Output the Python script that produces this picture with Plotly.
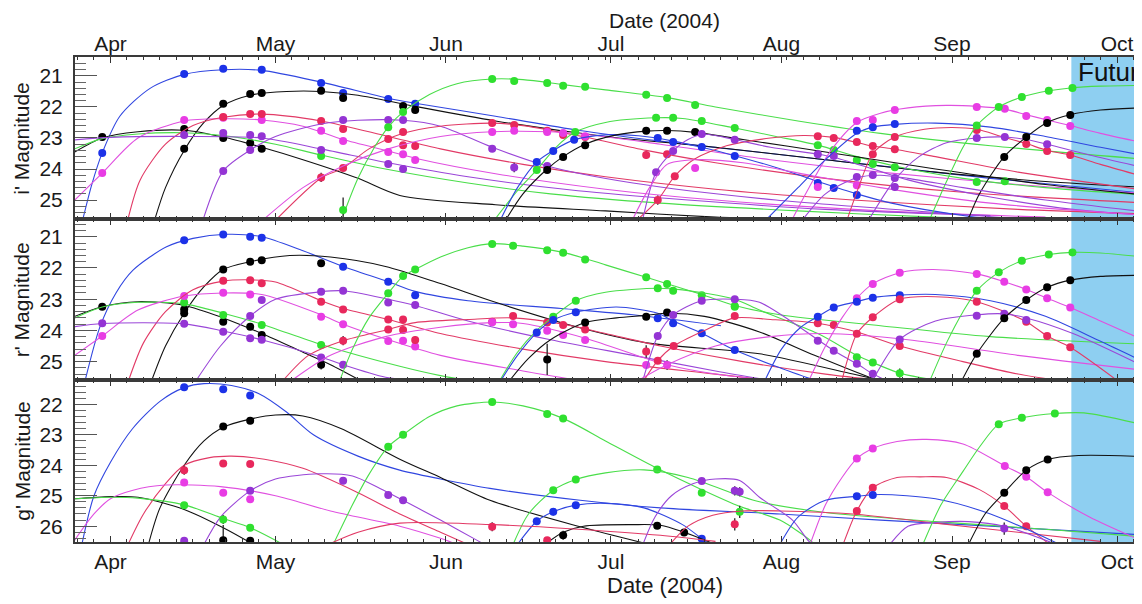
import pandas as pd
import plotly.graph_objects as go

# ---------------- data (days since 2004-04-01, magnitude[, error]) ----------------
# ---- i' band ----
I_BLUE_A_FIT = [(-5, 25.6), (-3.4, 24.5), (-1.5, 23.48), (1.7, 22.3), (7.2, 21.4), (13.4, 20.95), (20.5, 20.8), (27.5, 20.82), (38.3, 21.2), (50.5, 21.72), (55.4, 21.88), (70, 22.3), (85, 22.75), (100, 23.1), (120, 23.5), (140, 23.9), (160, 24.3), (189, 24.8)]
I_BLUE_A_OBS = [(-1.5, 23.48), (13.4, 20.94), (20.5, 20.77), (27.5, 20.8), (38.3, 21.23), (42.3, 21.55), (50.5, 21.74), (55.4, 21.9)]
I_BLACK_A_FIT = [(8.1, 25.6), (10, 24.6), (13.4, 23.4), (17, 22.5), (20.5, 21.95), (25.4, 21.62), (32, 21.5), (38.3, 21.5), (45, 21.62), (55.4, 21.98), (70, 22.45), (90, 22.95), (110, 23.3), (130, 23.7), (150, 24.1), (170, 24.4), (189, 24.6)]
I_BLACK_A_OBS = [(13.4, 23.35), (20.5, 21.9), (25.4, 21.58), (27.5, 21.55), (38.3, 21.48), (42.3, 21.71), (53.2, 21.97), (55.4, 22.1)]
I_BLACK_E_FIT = [(-6.5, 23.45), (-1.5, 23.0), (5, 22.8), (13.4, 22.75), (20.5, 22.97), (27.5, 23.3), (35, 23.7), (45, 24.3), (52.6, 24.85), (70, 25.15), (90, 25.35), (110, 25.55), (120, 25.6)]
I_BLACK_E_OBS = [(-1.5, 22.97), (13.4, 22.71), (20.5, 23.0), (25.4, 23.16), (27.5, 23.35)]
I_GREEN_E_FIT = [(-6.5, 23.35), (-1.5, 23.02), (5, 22.87), (13.4, 22.83), (20.5, 22.92), (30, 23.2), (38.3, 23.55), (50, 24.0), (65, 24.45), (80, 24.8), (100, 25.1), (125, 25.35), (150, 25.55), (160, 25.6)]
I_GREEN_E_OBS = [(38.3, 23.58, 0.08)]
I_MAG_E_FIT = [(-6.5, 25.0), (-1.5, 24.13), (5, 23.0), (13.4, 22.45), (20.5, 22.38), (27.5, 22.42), (35, 22.62), (42.3, 23.05), (50.5, 23.42), (55.4, 23.65), (70, 24.15), (90, 24.65), (110, 25.0), (140, 25.35), (170, 25.55)]
I_MAG_E_OBS = [(-1.5, 24.13), (13.4, 22.42), (20.5, 22.35), (27.5, 22.42), (38.3, 22.77), (42.3, 23.1), (53.2, 23.52), (55.4, 23.71)]
I_RED_E_FIT = [(3.2, 25.6), (5.4, 24.35), (10, 23.2), (15, 22.6), (20.5, 22.33), (27.5, 22.23), (38.3, 22.45), (50.5, 22.95), (60, 23.35), (75, 23.85), (90, 24.25), (110, 24.65), (135, 25.0), (165, 25.3), (189, 25.45)]
I_RED_E_OBS = [(20.5, 22.32), (25.4, 22.23), (27.5, 22.23), (38.3, 22.45), (42.3, 22.71), (53.2, 23.23), (55.4, 23.26)]
I_PUR_E_FIT = [(-6.5, 23.06), (0, 22.98), (13.4, 22.95), (27.5, 23.0), (38.3, 23.35), (50.5, 23.8), (65, 24.25), (85, 24.7), (105, 25.0), (130, 25.3), (160, 25.5)]
I_PUR_E_OBS = [(13.4, 22.9), (20.5, 22.84), (25.4, 22.9), (27.5, 22.94), (38.3, 23.39), (50.5, 23.84), (53.2, 24.0, 0.1)]
I_PUR_A_FIT = [(16.9, 25.6), (20.5, 24.06), (25.4, 23.39), (30, 22.95), (38.3, 22.55), (45, 22.43), (53.2, 22.43), (60, 22.62), (69.4, 23.3), (79.4, 23.9), (95, 24.45), (121, 25.0), (150, 25.4), (165, 25.6)]
I_PUR_A_OBS = [(20.5, 24.06, 0.08), (25.4, 23.39), (42.3, 22.42), (50.5, 22.42), (53.2, 22.42), (69.4, 23.35), (73.4, 23.95, 0.15), (79.4, 23.9)]
I_RED_M_FIT = [(30.3, 25.6), (38.3, 24.29), (42.3, 23.97), (47, 23.35), (53.2, 22.85), (60, 22.62), (69.4, 22.52), (75, 22.6), (86.3, 22.97), (97.4, 23.4), (110, 23.8), (130, 24.3), (155, 24.75), (189, 25.1)]
I_RED_M_OBS = [(38.3, 24.27, 0.15), (42.3, 23.97, 0.08), (50.5, 23.03), (53.2, 22.81), (69.4, 22.52), (73.4, 22.58), (79.4, 22.77), (82.3, 22.9), (86.3, 22.97), (97.4, 23.55, 0.12), (101.2, 23.52)]
I_MAG_M_FIT = [(28, 25.6), (35, 24.6), (42.3, 23.9), (50.5, 23.35), (60, 22.95), (69.4, 22.8), (80, 22.8), (86.3, 22.88), (100, 23.2), (120, 23.7), (140, 24.1), (165, 24.5), (189, 24.8)]
I_MAG_M_OBS = [(50.5, 23.45), (69.4, 22.81), (73.4, 22.77), (79.4, 22.81), (82.3, 22.84), (86.3, 22.94)]
I_GREEN_J_FIT = [(42.3, 25.5), (45, 24.3), (48, 23.3), (50.5, 22.65), (53.2, 22.16), (58, 21.6), (63, 21.25), (69.4, 21.1), (75, 21.12), (82.3, 21.28), (90, 21.45), (101.2, 21.7), (110, 22.0), (125, 22.45), (140, 22.85), (160, 23.25), (189, 23.7)]
I_GREEN_J_OBS = [(42.3, 25.32, 0.4), (50.5, 22.65), (53.2, 22.16), (69.4, 21.1), (73.4, 21.16), (79.4, 21.23), (82.3, 21.32), (86.3, 21.35), (97.4, 21.61), (101.2, 21.71), (106.3, 21.94)]
I_GREEN_L_FIT = [(70, 25.6), (74, 24.7), (77.5, 24.03), (81, 23.3), (84.5, 22.81), (90, 22.5), (99.2, 22.35), (104, 22.37), (113.5, 22.68), (121, 22.95), (128.6, 23.23), (135.7, 23.6), (142.6, 23.9), (155, 24.3), (170, 24.6), (189, 24.85)]
I_GREEN_L_OBS = [(77.5, 24.03), (84.5, 22.81), (99.2, 22.35), (102.3, 22.35), (107.5, 22.45), (113.5, 22.68), (128.6, 23.23), (131.5, 23.39), (135.7, 23.71), (138.6, 23.84), (142.6, 23.94), (157.5, 24.42, 0.08), (162.6, 24.39, 0.08)]
I_BLUE_B_FIT = [(71, 25.6), (74, 24.6), (77.5, 23.77), (80.5, 23.4), (84.3, 23.06), (90, 22.9), (96, 22.93), (102.3, 23.1), (107.5, 23.3), (113.5, 23.57), (121, 23.95), (128.6, 24.4), (135.7, 24.8), (142, 25.1), (155, 25.5), (160, 25.6)]
I_BLUE_B_OBS = [(77.5, 23.77), (80.5, 23.42), (84.3, 23.06), (99.5, 23.0), (102.3, 23.13), (107.5, 23.29), (113.5, 23.58), (128.6, 24.45), (131.5, 24.61), (135.7, 24.84)]
I_BLACK_B_FIT = [(72, 25.6), (75, 24.8), (79.4, 24.0), (82.3, 23.6), (86.3, 23.2), (92, 22.9), (97.4, 22.78), (101.2, 22.76), (106.3, 22.82), (115, 23.05), (130, 23.45), (150, 24.0), (170, 24.5), (189, 24.85)]
I_BLACK_B_OBS = [(79.4, 24.03), (82.3, 23.61), (86.3, 23.23), (97.4, 22.77), (101.2, 22.77), (106.3, 22.81)]
I_RED_H_FIT = [(96, 25.6), (99.5, 25.0), (102.6, 24.23), (106, 23.7), (112, 23.25), (120, 23.0), (126, 22.92), (131.5, 22.98), (138.6, 23.26), (142.6, 23.36), (150, 23.6), (165, 24.1), (189, 24.7)]
I_RED_H_OBS = [(99.5, 25.0, 0.15), (102.6, 24.23), (128.6, 22.94), (131.5, 23.0), (135.7, 23.13), (138.6, 23.26), (142.6, 23.36)]
I_PUR_J_FIT = [(96.8, 25.6), (99.2, 24.1), (102.3, 23.42), (105, 23.05), (108, 22.88), (113.5, 23.05), (120, 23.3), (128.6, 23.52), (131.5, 23.62), (138.6, 24.0), (145, 24.35), (160, 24.9), (175, 25.3), (189, 25.5)]
I_PUR_J_OBS = [(99.2, 24.1), (102.3, 23.42), (107.5, 22.87), (113.5, 23.06), (128.6, 23.52), (131.5, 23.58)]
I_MAG_J_FIT = [(95, 25.6), (98, 24.6), (101.2, 23.85), (106.3, 23.7), (115, 23.8), (128.6, 24.25), (140, 24.6), (160, 25.1), (189, 25.5)]
I_MAG_J_OBS = [(106.3, 23.97, 0.08), (128.6, 24.58), (135.7, 24.52)]
I_MAG_A_FIT = [(124, 25.6), (127, 24.6), (131, 23.4), (135.7, 22.5), (140, 22.2), (145, 22.03), (152, 21.95), (157.5, 21.98), (162.6, 22.07), (166.5, 22.25), (170.3, 22.42), (174.5, 22.6), (180, 22.85), (189, 23.2)]
I_MAG_A_OBS = [(135.7, 22.45), (138.6, 22.42), (142.6, 22.1), (157.5, 22.0), (162.6, 22.06), (166.5, 22.29), (170.3, 22.42), (174.5, 22.61)]
I_RED_A_FIT = [(134, 25.6), (136, 24.6), (138.6, 23.5), (142.6, 22.97), (148, 22.72), (153, 22.66), (157.5, 22.72), (162, 22.95), (166.5, 23.18), (170.3, 23.4), (174.5, 23.55), (180, 23.85), (189, 24.3)]
I_RED_A_OBS = [(138.6, 23.52), (142.6, 22.97), (157.5, 22.74), (166.5, 23.19), (170.3, 23.42), (174.5, 23.55)]
I_PUR_A2_FIT = [(138, 25.6), (142.6, 24.35), (147, 23.6), (152, 23.15), (157.5, 23.0), (162.6, 22.97), (166.5, 23.05), (170.3, 23.2), (178, 23.55), (189, 24.0)]
I_PUR_A2_OBS = [(142.6, 24.29), (157.5, 23.0), (162.6, 22.97), (170.3, 23.2)]
I_BLUE_C_FIT = [(119.4, 25.6), (125, 24.6), (130, 23.7), (135.7, 22.85), (138.6, 22.65), (142.6, 22.56), (150, 22.52), (160, 22.65), (170, 22.95), (180, 23.3), (189, 23.6)]
I_BLUE_C_OBS = [(135.7, 22.77), (138.6, 22.65), (142.6, 22.55)]
I_BLACK_S_FIT = [(156, 25.6), (158, 24.8), (162.5, 23.6), (166.5, 22.97), (170.3, 22.5), (174.5, 22.25), (180, 22.1), (189, 22.02)]
I_BLACK_S_OBS = [(162.5, 23.61), (166.5, 22.97), (170.3, 22.52), (174.5, 22.26)]
I_GREEN_S_FIT = [(149, 25.6), (152, 24.4), (155, 23.3), (157.5, 22.6), (161.5, 22.0), (165.7, 21.68), (170.6, 21.48), (174.9, 21.38), (180, 21.33), (189, 21.3)]
I_GREEN_S_OBS = [(157.5, 22.6), (161.5, 22.0), (165.7, 21.68), (170.6, 21.48), (174.9, 21.39)]
I_PUR_B_FIT = [(126, 25.6), (130, 24.8), (135.7, 24.28), (140, 24.2), (145, 24.3), (155, 24.6), (170, 25.0), (189, 25.4)]
I_PUR_B_OBS = [(135.7, 24.26), (138.6, 24.19), (142.6, 24.58, 0.12)]

# ---- r' band ----
R_BLUE_A_FIT = [(-4.6, 25.6), (-1.9, 23.88), (1, 22.8), (4.1, 22.07), (10.2, 21.32), (15, 21.05), (21, 20.92), (27.5, 21.0), (35, 21.45), (42.3, 21.95), (50.5, 22.44), (55.4, 22.75), (65, 23.05), (82, 23.3), (95, 23.5), (111, 23.85)]
R_BLUE_A_OBS = [(13.4, 21.11), (20.5, 20.93), (25.4, 21.0), (27.5, 21.03), (42.3, 21.96), (50.5, 22.44), (55.4, 22.87)]
R_BLACK_A_FIT = [(7.5, 25.6), (10, 24.5), (13.4, 23.45), (17, 22.6), (20.5, 22.05), (25.4, 21.8), (32.6, 21.6), (40, 21.65), (50, 21.95), (60, 22.5), (70, 23.1), (85, 23.9), (97.5, 24.4), (118, 24.75), (135, 25.4), (140, 25.6)]
R_BLACK_A_OBS = [(13.4, 23.45), (20.5, 22.05), (25.4, 21.8), (27.5, 21.75), (38.3, 21.85)]
R_BLACK_E_FIT = [(-6.5, 23.55), (-1.5, 23.24), (5, 23.08), (13.4, 23.2), (20.5, 23.6), (27.5, 24.1), (35, 24.7), (40, 25.1), (45.4, 25.6)]
R_BLACK_E_OBS = [(-1.5, 23.24), (13.4, 23.33), (20.5, 23.72), (25.4, 23.88), (27.5, 24.15, 0.08), (38.3, 25.1, 0.15)]
R_GREEN_E_FIT = [(-6.5, 23.6), (-1.5, 23.25), (5, 23.1), (13.4, 23.15), (20.5, 23.45), (27.5, 23.8), (38.3, 24.45), (52.6, 25.15), (60, 25.45), (65, 25.6)]
R_GREEN_E_OBS = [(13.4, 23.11), (20.5, 23.51), (27.5, 23.83), (38.3, 24.47)]
R_MAG_E_FIT = [(-6.5, 24.8), (-1.5, 24.18), (5, 23.35), (13.4, 22.9), (20.5, 22.8), (27.5, 22.85), (38.3, 23.5), (42.3, 23.8), (50.5, 24.3), (60, 24.8), (75, 25.3), (85, 25.6)]
R_MAG_E_OBS = [(-1.5, 24.18), (13.4, 22.9), (20.5, 22.79), (25.4, 22.85), (38.3, 23.56), (42.3, 23.8), (50.5, 24.34), (53.2, 24.33), (55.4, 24.52)]
R_RED_E_FIT = [(3.3, 25.6), (6, 24.4), (10, 23.4), (15, 22.7), (20.5, 22.42), (25.4, 22.38), (30, 22.45), (38.3, 23.05), (42.3, 23.3), (50.5, 23.65), (60, 24.1), (75, 24.6), (90, 25.0), (110, 25.4), (120, 25.6)]
R_RED_E_OBS = [(20.5, 22.41), (25.4, 22.39), (27.5, 22.49), (38.3, 23.08), (42.3, 23.33), (50.5, 23.65), (53.2, 23.65)]
R_PUR_E_FIT = [(-6.5, 23.88), (-1.5, 23.78), (13.4, 23.79), (20.5, 24.02), (27.5, 24.3), (38.3, 24.85), (42.3, 25.1), (50, 25.5), (55, 25.6)]
R_PUR_E_OBS = [(-1.5, 23.77), (13.4, 23.79), (20.5, 24.04), (25.4, 24.25), (27.5, 24.3), (38.3, 24.87), (42.3, 25.1)]
R_PUR_A_FIT = [(15.6, 25.6), (20, 24.5), (25.4, 23.54), (30, 23.0), (38.3, 22.76), (42.3, 22.73), (50.5, 23.0), (55.4, 23.2), (65, 23.7), (80, 24.3), (95, 24.8), (110, 25.3), (120, 25.6)]
R_PUR_A_OBS = [(25.4, 23.54), (27.5, 23.03), (38.3, 22.76), (42.3, 22.73), (50.5, 23.11), (55.4, 23.19)]
R_RED_M_FIT = [(31.4, 25.6), (36, 24.8), (42.3, 24.33), (50.5, 23.97), (55.4, 23.75), (65, 23.65), (73.2, 23.6), (82.3, 23.8), (90, 24.1), (100, 24.5), (115, 25.0), (130, 25.4), (140, 25.6)]
R_RED_M_OBS = [(42.3, 24.33, 0.15), (50.5, 23.97), (53.2, 23.99), (55.4, 24.31, 0.12), (69.4, 23.72), (73.2, 23.54), (79.4, 23.75), (82.3, 23.83), (86.3, 23.97), (97.4, 24.68, 0.2)]
R_MAG_M_FIT = [(33, 25.6), (40, 24.8), (50, 24.2), (60, 23.9), (69.4, 23.75), (75, 23.78), (86.3, 24.25), (97.4, 24.9), (101.2, 25.1), (110, 25.4), (120, 25.6)]
R_MAG_M_OBS = [(69.4, 23.74), (73.2, 23.8), (79.4, 24.01), (82.3, 24.15), (86.3, 24.31), (97.4, 25.11), (101.2, 25.11, 0.15)]
R_GREEN_J_FIT = [(41.7, 25.6), (44, 24.6), (47, 23.6), (50.5, 22.81), (53.2, 22.26), (55.4, 22.05), (60, 21.65), (65, 21.35), (69.4, 21.22), (75, 21.3), (82.3, 21.5), (90, 21.9), (97.4, 22.3), (107.5, 22.85), (113.5, 23.2), (121.7, 23.5), (140, 23.85), (160, 24.2), (189, 24.45)]
R_GREEN_J_OBS = [(50.5, 22.81), (53.2, 22.26), (55.4, 22.05), (69.4, 21.23), (73.2, 21.29), (79.4, 21.43), (82.3, 21.51), (86.3, 21.73), (97.4, 22.3), (101.2, 22.51), (107.5, 22.87), (113.5, 23.22)]
R_GREEN_L_FIT = [(70.8, 25.6), (74, 24.7), (77.5, 24.0), (80.5, 23.56), (84.6, 23.05), (90, 22.78), (99.5, 22.65), (104, 22.7), (113.5, 23.0), (118, 23.35), (128.6, 24.1), (135.7, 24.8), (138.6, 25.03), (143.5, 25.37), (150, 25.6)]
R_GREEN_L_OBS = [(80.5, 23.56), (84.6, 23.05), (99.5, 22.65), (102.3, 22.73), (113.5, 23.24), (135.7, 24.86), (138.6, 25.03), (143.5, 25.37, 0.15)]
R_BLUE_B_FIT = [(71, 25.6), (74, 24.8), (77.5, 24.07), (80.5, 23.67), (84.6, 23.42), (92, 23.25), (99.5, 23.45), (102.3, 23.7), (107.5, 24.09), (113.5, 24.63), (121.7, 25.2), (128, 25.6)]
R_BLUE_B_OBS = [(77.5, 24.07), (80.5, 23.67), (84.6, 23.42), (99.5, 23.61), (102.3, 23.77), (107.5, 24.09), (113.5, 24.63)]
R_BLACK_B_FIT = [(72.6, 25.6), (76, 24.9), (80, 24.3), (86.3, 23.75), (92, 23.6), (97.4, 23.52), (101.2, 23.45), (108, 23.55), (118, 24.05), (128, 24.8), (138, 25.5), (140, 25.6)]
R_BLACK_B_OBS = [(79.4, 24.93, 0.5), (86.3, 23.75), (97.4, 23.56), (101.2, 23.43)]
R_RED_H_FIT = [(97, 25.6), (99.5, 24.97), (102.4, 24.5), (108, 24.0), (113.5, 23.6), (120, 23.65), (128.6, 23.77), (135.7, 24.05), (143.5, 24.5), (155, 25.0), (165, 25.4), (172, 25.6)]
R_RED_H_OBS = [(99.5, 24.97), (102.4, 24.5), (113.5, 23.54), (128.6, 23.77), (131.5, 23.83), (143.5, 24.5)]
R_PUR_J_FIT = [(96.8, 25.6), (99.5, 24.18), (102.3, 23.51), (107.5, 23.05), (113.5, 23.0), (118, 23.1), (128.6, 24.3), (131.5, 24.65), (135.7, 25.07), (138.6, 25.39), (141, 25.6)]
R_PUR_J_OBS = [(99.5, 24.18), (102.3, 23.51), (107.5, 23.05), (113.5, 23.0), (128.6, 24.33), (131.5, 24.65), (135.7, 25.07), (138.6, 25.39)]
R_MAG_J_FIT = [(96, 25.6), (101.2, 25.1), (110, 24.5), (120, 24.2), (130, 24.1), (145, 24.3), (165, 24.8), (189, 25.3)]
R_MAG_J_OBS = []
R_MAG_A_FIT = [(127, 25.6), (130, 24.5), (133, 23.6), (135.7, 22.97), (138.6, 22.51), (143.5, 22.15), (149.6, 22.05), (157.5, 22.19), (162.5, 22.44), (166.5, 22.69), (170.3, 22.97), (174.5, 23.27), (180, 23.7), (189, 24.4)]
R_MAG_A_OBS = [(135.7, 22.97), (138.6, 22.51), (143.5, 22.15), (157.5, 22.19), (162.5, 22.44), (166.5, 22.69), (170.3, 22.97), (174.5, 23.27)]
R_BLUE_C_FIT = [(119, 25.6), (122, 24.6), (125.5, 23.9), (128.6, 23.56), (131.5, 23.27), (135.7, 23.08), (138.6, 22.95), (143.5, 22.87), (150, 22.85), (160, 23.05), (170, 23.55), (180, 24.35), (189, 25.1)]
R_BLUE_C_OBS = [(128.6, 23.56), (131.5, 23.27), (135.7, 23.08), (138.6, 22.95), (143.5, 22.87)]
R_RED_A_FIT = [(133, 25.6), (135.7, 24.11), (138.6, 23.58), (143.5, 23.0), (150, 22.92), (157.5, 23.08), (166.5, 23.72), (170.3, 24.18), (174.5, 24.54), (183, 25.6)]
R_RED_A_OBS = [(135.7, 24.11), (138.6, 23.58), (143.5, 23.0), (157.5, 23.08), (166.5, 23.72), (170.3, 24.18), (174.5, 24.54)]
R_PUR_A2_FIT = [(138.6, 25.6), (143.5, 24.29), (150, 23.7), (157.5, 23.5), (162.5, 23.47), (166.5, 23.6), (175, 24.1), (189, 25.25)]
R_PUR_A2_OBS = [(143.5, 24.29), (157.5, 23.53), (162.5, 23.47), (166.5, 23.67)]
R_GREEN_S_FIT = [(149, 25.6), (152, 24.4), (155, 23.4), (157.5, 22.73), (161.5, 22.14), (165.7, 21.77), (170.6, 21.57), (174.9, 21.5), (180, 21.52), (189, 21.67)]
R_GREEN_S_OBS = [(157.5, 22.73), (161.5, 22.14), (165.7, 21.77), (170.6, 21.57), (174.9, 21.5)]
R_BLACK_S_FIT = [(154.8, 25.6), (157.5, 24.75), (162.5, 23.61), (166.5, 23.03), (170.3, 22.62), (174.5, 22.39), (180, 22.27), (189, 22.23)]
R_BLACK_S_OBS = [(157.5, 24.75), (162.5, 23.61), (166.5, 23.03), (170.3, 22.62), (174.5, 22.39)]

# ---- g' band ----
G_BLUE_A_FIT = [(-5.2, 26.6), (-3, 25.0), (0, 23.9), (4, 22.8), (9, 21.9), (13.4, 21.45), (17, 21.32), (22, 21.38), (27, 21.65), (32, 22.25), (36.9, 23.0), (45, 23.7), (52.6, 24.16), (60, 24.45), (69, 24.76), (85.4, 25.15), (100, 25.4), (121.7, 25.6), (140, 25.8), (160, 26.0), (189, 26.3)]
G_BLUE_A_OBS = [(13.4, 21.44), (20.5, 21.5), (25.4, 21.71)]
G_BLACK_A_FIT = [(6.9, 26.6), (9, 25.4), (13.4, 24.0), (17, 23.2), (20.5, 22.75), (25, 22.5), (30, 22.35), (35, 22.38), (42, 22.8), (52.6, 23.8), (60, 24.4), (69, 25.15), (85.4, 26.02), (98, 26.6)]
G_BLACK_A_OBS = [(20.5, 22.73), (25.4, 22.54)]
G_BLACK_E_FIT = [(-6.5, 25.1), (0, 25.03), (5, 25.05), (13.4, 25.45), (20.5, 26.05), (26, 26.6)]
G_BLACK_E_OBS = [(20.5, 26.46, 0.5), (25.4, 26.48)]
G_RED_E_FIT = [(3.2, 26.6), (6, 25.6), (10, 24.6), (13.4, 24.0), (18, 23.75), (22, 23.7), (28, 23.8), (35, 24.1), (45, 24.9), (52.6, 25.6), (60, 26.2), (65, 26.6)]
G_RED_E_OBS = [(13.4, 24.16, 0.15), (20.5, 23.94, 0.1), (25.4, 23.96)]
G_MAG_E_FIT = [(-6.5, 26.46), (-3, 25.6), (0, 25.1), (4.1, 24.82), (10, 24.65), (20, 24.7), (30, 25.0), (40, 25.5), (52.6, 26.0), (60, 26.4), (63, 26.6)]
G_MAG_E_OBS = [(13.4, 24.57), (20.5, 24.9, 0.1), (25.4, 25.12, 0.1)]
G_PUR_A_FIT = [(17, 26.6), (20, 25.7), (25.4, 24.84), (30, 24.45), (38, 24.28), (44, 24.35), (49, 24.76), (53.2, 25.15), (60, 25.8), (67, 26.5), (68, 26.6)]
G_PUR_A_OBS = [(13.4, 26.48), (25.4, 24.84), (42.3, 24.51), (50.5, 24.98), (53.2, 25.15)]
G_GREEN_E_FIT = [(-6.5, 25.1), (0, 25.05), (5, 25.08), (13.4, 25.3), (20.5, 25.75), (25.4, 26.05), (31.4, 26.6)]
G_GREEN_E_OBS = [(13.4, 25.31, 0.1), (20.5, 25.78, 0.15), (25.4, 26.05, 0.1)]
G_GREEN_J_FIT = [(40.5, 26.6), (44, 25.3), (47, 24.3), (50.5, 23.39), (53.2, 23.0), (58, 22.4), (63, 22.05), (69.4, 21.92), (75, 22.05), (82.3, 22.46), (90, 23.2), (99.4, 24.1), (107.5, 24.8), (114.4, 25.35), (121.7, 25.8), (127.2, 26.46), (128, 26.6)]
G_GREEN_J_OBS = [(50.5, 23.39, 0.12), (53.2, 23.0, 0.1), (69.4, 21.92), (79.4, 22.32), (82.3, 22.46), (99.4, 24.14), (107.5, 24.9), (114.4, 25.53, 0.2)]
G_GREEN_L_FIT = [(73.2, 26.6), (76, 25.6), (80.5, 24.82), (84.6, 24.47), (90, 24.25), (97, 24.15), (105, 24.4), (114.4, 25.0), (118, 25.2), (130, 25.55), (150, 25.85), (170, 26.1), (189, 26.37)]
G_GREEN_L_OBS = [(80.5, 24.82, 0.1), (84.6, 24.47, 0.1)]
G_BLUE_B_FIT = [(74, 26.6), (77.5, 25.84), (80.5, 25.53), (84.6, 25.31), (90, 25.25), (97, 25.4), (104, 25.95), (107.5, 26.41), (109, 26.6)]
G_BLUE_B_OBS = [(77.5, 25.84, 0.12), (80.5, 25.53, 0.12), (84.6, 25.31, 0.1), (107.5, 26.41)]
G_BLACK_B_FIT = [(79, 26.6), (82.3, 26.2), (86, 26.0), (95, 25.95), (100, 25.97), (104.3, 26.2), (110, 26.6)]
G_BLACK_B_OBS = [(82.3, 26.3, 0.15), (99.4, 25.99), (104.3, 26.21)]
G_RED_M_FIT = [(39.6, 26.6), (45, 26.2), (52.6, 25.9), (69.4, 25.95), (85, 26.1), (100, 26.3), (110, 26.5)]
G_RED_M_OBS = [(69.4, 26.02, 0.15), (79.4, 26.46)]
G_RED_H_FIT = [(101.7, 26.6), (105, 26.0), (109.5, 25.64), (115, 25.5), (121.7, 25.5), (135, 25.6), (150, 25.9), (165, 26.2), (180, 26.5)]
G_RED_H_OBS = [(113.5, 25.94, 0.2)]
G_PUR_J_FIT = [(96.8, 26.6), (99, 25.7), (102, 25.0), (106, 24.6), (110, 24.45), (114.4, 24.5), (118, 25.05), (124, 25.8), (127, 26.5), (128, 26.6)]
G_PUR_J_OBS = [(107.5, 24.52), (113.5, 24.84, 0.15), (114.4, 24.87, 0.15)]
G_MAG_A_FIT = [(127.2, 26.6), (130, 25.3), (133, 24.4), (135.7, 23.78), (138.6, 23.45), (143, 23.22), (148.4, 23.15), (155, 23.3), (162.6, 24.02), (166.5, 24.38), (170.4, 24.89), (178, 25.7), (189, 26.6)]
G_MAG_A_OBS = [(135.7, 23.78), (138.6, 23.45), (162.6, 24.02), (166.5, 24.38), (170.4, 24.89)]
G_RED_A_FIT = [(133.2, 26.6), (135.7, 25.5), (138.6, 24.74), (143, 24.4), (147.2, 24.38), (152, 24.4), (158, 24.8), (162.5, 25.34), (166.5, 26.0), (170.8, 26.6)]
G_RED_A_OBS = [(135.7, 25.5), (138.6, 24.74), (162.5, 25.34), (166.5, 26.0)]
G_BLUE_C_FIT = [(121.7, 26.6), (125, 25.7), (130, 25.15), (135.7, 25.02), (140, 24.96), (150, 25.1), (160, 25.6), (172.6, 26.6)]
G_BLUE_C_OBS = [(135.7, 25.02), (138.6, 24.98)]
G_PUR_A2_FIT = [(141.7, 26.6), (145, 26.0), (150, 25.88), (156, 25.85), (162.5, 26.0), (172, 26.6)]
G_PUR_A2_OBS = [(162.5, 26.08, 0.2)]
G_GREEN_S_FIT = [(147.7, 26.6), (151, 25.3), (155, 24.2), (158, 23.4), (161.5, 22.65), (165.7, 22.44), (171.7, 22.3), (177, 22.28), (189, 22.72)]
G_GREEN_S_OBS = [(161.5, 22.65), (165.7, 22.44), (171.7, 22.3)]
G_BLACK_S_FIT = [(156, 26.6), (159, 25.6), (162.5, 24.9), (166.5, 24.16), (170.4, 23.81), (176, 23.68), (189, 23.72)]
G_BLACK_S_OBS = [(162.5, 24.9), (166.5, 24.16), (170.4, 23.81)]

# labels / ranges
Y_TITLES = ["i' Magnitude", "r' Magnitude", "g' Magnitude"]
Y_RANGES = [[25.61, 20.39], [25.59, 20.43], [26.52, 21.2]]
X_RANGE_DAYS = [-6.45, 189.0]
FUTURE_START = 174.7
X_TITLE = "Date (2004)"

# ---------------- styling ----------------
COLORS = {"blue": "#1c32e8", "black": "#000000", "green": "#2fe02f", "red": "#e8285c",
          "magenta": "#e83ce4", "purple": "#9434d4"}
LINE_COLORS = {"blue": "#3046e0", "black": "#111111", "green": "#4ade4a", "red": "#e23a66",
               "magenta": "#e050e0", "purple": "#9a46d8"}

I_SET = [("blue", I_BLUE_A_FIT, I_BLUE_A_OBS), ("black", I_BLACK_A_FIT, I_BLACK_A_OBS),
         ("black", I_BLACK_E_FIT, I_BLACK_E_OBS), ("green", I_GREEN_E_FIT, I_GREEN_E_OBS),
         ("magenta", I_MAG_E_FIT, I_MAG_E_OBS), ("red", I_RED_E_FIT, I_RED_E_OBS),
         ("purple", I_PUR_E_FIT, I_PUR_E_OBS), ("purple", I_PUR_A_FIT, I_PUR_A_OBS),
         ("red", I_RED_M_FIT, I_RED_M_OBS), ("magenta", I_MAG_M_FIT, I_MAG_M_OBS),
         ("green", I_GREEN_J_FIT, I_GREEN_J_OBS), ("green", I_GREEN_L_FIT, I_GREEN_L_OBS),
         ("blue", I_BLUE_B_FIT, I_BLUE_B_OBS), ("black", I_BLACK_B_FIT, I_BLACK_B_OBS),
         ("red", I_RED_H_FIT, I_RED_H_OBS), ("purple", I_PUR_J_FIT, I_PUR_J_OBS),
         ("magenta", I_MAG_J_FIT, I_MAG_J_OBS), ("magenta", I_MAG_A_FIT, I_MAG_A_OBS),
         ("red", I_RED_A_FIT, I_RED_A_OBS), ("purple", I_PUR_A2_FIT, I_PUR_A2_OBS),
         ("blue", I_BLUE_C_FIT, I_BLUE_C_OBS), ("black", I_BLACK_S_FIT, I_BLACK_S_OBS),
         ("green", I_GREEN_S_FIT, I_GREEN_S_OBS), ("purple", I_PUR_B_FIT, I_PUR_B_OBS)]
R_SET = [("blue", R_BLUE_A_FIT, R_BLUE_A_OBS), ("black", R_BLACK_A_FIT, R_BLACK_A_OBS),
         ("black", R_BLACK_E_FIT, R_BLACK_E_OBS), ("green", R_GREEN_E_FIT, R_GREEN_E_OBS),
         ("magenta", R_MAG_E_FIT, R_MAG_E_OBS), ("red", R_RED_E_FIT, R_RED_E_OBS),
         ("purple", R_PUR_E_FIT, R_PUR_E_OBS), ("purple", R_PUR_A_FIT, R_PUR_A_OBS),
         ("red", R_RED_M_FIT, R_RED_M_OBS), ("magenta", R_MAG_M_FIT, R_MAG_M_OBS),
         ("green", R_GREEN_J_FIT, R_GREEN_J_OBS), ("green", R_GREEN_L_FIT, R_GREEN_L_OBS),
         ("blue", R_BLUE_B_FIT, R_BLUE_B_OBS), ("black", R_BLACK_B_FIT, R_BLACK_B_OBS),
         ("red", R_RED_H_FIT, R_RED_H_OBS), ("purple", R_PUR_J_FIT, R_PUR_J_OBS),
         ("magenta", R_MAG_J_FIT, R_MAG_J_OBS), ("magenta", R_MAG_A_FIT, R_MAG_A_OBS),
         ("blue", R_BLUE_C_FIT, R_BLUE_C_OBS), ("red", R_RED_A_FIT, R_RED_A_OBS),
         ("purple", R_PUR_A2_FIT, R_PUR_A2_OBS), ("green", R_GREEN_S_FIT, R_GREEN_S_OBS),
         ("black", R_BLACK_S_FIT, R_BLACK_S_OBS)]
G_SET = [("blue", G_BLUE_A_FIT, G_BLUE_A_OBS), ("black", G_BLACK_A_FIT, G_BLACK_A_OBS),
         ("black", G_BLACK_E_FIT, G_BLACK_E_OBS), ("red", G_RED_E_FIT, G_RED_E_OBS),
         ("magenta", G_MAG_E_FIT, G_MAG_E_OBS), ("purple", G_PUR_A_FIT, G_PUR_A_OBS),
         ("green", G_GREEN_E_FIT, G_GREEN_E_OBS), ("green", G_GREEN_J_FIT, G_GREEN_J_OBS),
         ("green", G_GREEN_L_FIT, G_GREEN_L_OBS), ("blue", G_BLUE_B_FIT, G_BLUE_B_OBS),
         ("black", G_BLACK_B_FIT, G_BLACK_B_OBS), ("red", G_RED_M_FIT, G_RED_M_OBS),
         ("red", G_RED_H_FIT, G_RED_H_OBS), ("purple", G_PUR_J_FIT, G_PUR_J_OBS),
         ("magenta", G_MAG_A_FIT, G_MAG_A_OBS), ("red", G_RED_A_FIT, G_RED_A_OBS),
         ("blue", G_BLUE_C_FIT, G_BLUE_C_OBS), ("purple", G_PUR_A2_FIT, G_PUR_A2_OBS),
         ("green", G_GREEN_S_FIT, G_GREEN_S_OBS), ("black", G_BLACK_S_FIT, G_BLACK_S_OBS)]

BASE = pd.Timestamp("2004-04-01")


def to_dates(days):
    return [BASE + pd.Timedelta(days=float(v)) for v in days]


FONT = "Liberation Sans, Arial, Helvetica, sans-serif"
fig = go.Figure()

for k, (dataset, yref) in enumerate([(I_SET, "y"), (R_SET, "y2"), (G_SET, "y3")]):
    xref = "x" if k == 0 else "x%d" % (k + 1)
    for col, fit, obs in dataset:
        fig.add_trace(go.Scatter(
            x=to_dates([p[0] for p in fit]), y=[p[1] for p in fit], mode="lines",
            line=dict(color=LINE_COLORS[col], width=1.1, shape="spline", smoothing=0.8),
            xaxis=xref, yaxis=yref, showlegend=False, hoverinfo="skip"))
        if obs:
            errs = [p[2] if len(p) > 2 else 0 for p in obs]
            fig.add_trace(go.Scatter(
                x=to_dates([p[0] for p in obs]), y=[p[1] for p in obs], mode="markers",
                marker=dict(color=COLORS[col], size=8, line=dict(width=0)),
                error_y=dict(type="data", array=errs, visible=True, color="#333333",
                             thickness=1.4, width=0),
                xaxis=xref, yaxis=yref, showlegend=False))

XR = to_dates(X_RANGE_DAYS)
tickfont = dict(family=FONT, size=21, color="#1a1a1a")
xcommon = dict(type="date", range=XR, dtick="M1", tick0="2004-04-01", tickformat="%b",
               ticks="inside", ticklen=6, tickwidth=1.2, tickcolor="#333333",
               showline=True, linewidth=2, linecolor="#3a3a3a", mirror="ticks",
               showgrid=False, zeroline=False, tickfont=tickfont, automargin=False,
               minor=dict(ticks="inside", ticklen=3, dtick=3 * 86400000,
                          tick0="2004-04-01", tickcolor="#333333", showgrid=False))
ycommon = dict(dtick=1, ticks="inside", ticklen=22, tickwidth=1.2, tickcolor="#555555",
               showline=True, linewidth=2, linecolor="#3a3a3a", mirror=False,
               showgrid=False, zeroline=False, tickfont=tickfont, ticklabelstandoff=6,
               automargin=False,
               minor=dict(ticks="inside", ticklen=11, dtick=0.2, tickcolor="#666666",
                          showgrid=False))

domains = [[0.666, 1.0], [0.334, 0.666], [0.0, 0.334]]
fig.update_layout(
    xaxis=dict(xcommon, anchor="y", side="top", showticklabels=True, ticklabelstandoff=-4),
    xaxis2=dict(xcommon, anchor="y2", showticklabels=False, matches="x"),
    xaxis3=dict(xcommon, anchor="y3", side="bottom", showticklabels=True, matches="x"),
    yaxis=dict(ycommon, range=Y_RANGES[0], domain=domains[0], anchor="x"),
    yaxis2=dict(ycommon, range=Y_RANGES[1], domain=domains[1], anchor="x2"),
    yaxis3=dict(ycommon, range=Y_RANGES[2], domain=domains[2], anchor="x3"),
)

fig.add_shape(type="rect", xref="x", yref="paper",
              x0=BASE + pd.Timedelta(days=FUTURE_START), x1=BASE + pd.Timedelta(days=200),
              y0=0, y1=1, fillcolor="#8ecff1", line=dict(width=0), layer="below")

annotations = []
for title, dom in zip(Y_TITLES, domains):
    annotations.append(dict(text=title, xref="paper", yref="paper", x=-0.0495,
                            y=(dom[0] + dom[1]) / 2, textangle=-90, showarrow=False,
                            xanchor="center", yanchor="middle",
                            font=dict(family=FONT, size=21, color="#1a1a1a")))
annotations.append(dict(text=X_TITLE, xref="paper", yref="paper", x=0.5488, y=1.0753,
                        showarrow=False, xanchor="center", yanchor="middle",
                        font=dict(family=FONT, size=21, color="#1a1a1a")))
annotations.append(dict(text=X_TITLE, xref="paper", yref="paper", x=0.5488, y=-0.0907,
                        showarrow=False, xanchor="center", yanchor="middle",
                        font=dict(family=FONT, size=22, color="#1a1a1a")))
annotations.append(dict(text="Future", xref="x", yref="y",
                        x=BASE + pd.Timedelta(days=175.6), y=20.87, showarrow=False,
                        xanchor="left", yanchor="middle",
                        font=dict(family=FONT, size=26, color="#111111")))
fig.update_layout(
    annotations=annotations,
    width=1142, height=604,
    margin=dict(l=67, r=0, t=49, b=70, autoexpand=False),
    paper_bgcolor="white", plot_bgcolor="white",
    showlegend=False,
    font=dict(family=FONT),
)

fig.write_html("out.html")
